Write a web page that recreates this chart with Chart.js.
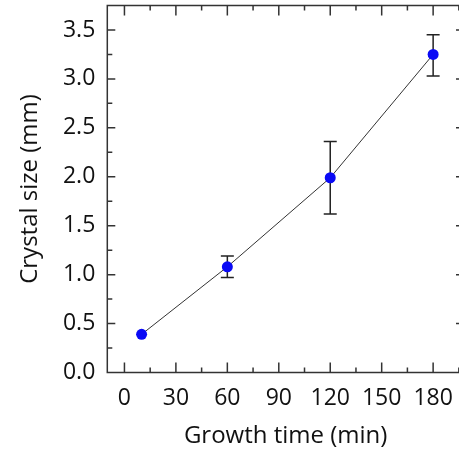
<!DOCTYPE html>
<html>
<head>
<meta charset="utf-8">
<script src="https://cdn.jsdelivr.net/npm/chart.js@4.4.1/dist/chart.umd.min.js"></script>
<style>
  html, body { margin: 0; padding: 0; overflow: hidden; background: #fff; }
  canvas { display: block; }
</style>
</head>
<body>
<canvas id="myCrystalChart" width="470" height="451"></canvas>
<script>
// growth data
const growthTime = [10, 60, 120, 180];
const crystalSize = [0.39, 1.08, 1.99, 3.25];
const errLow = [0.39, 0.97, 1.62, 3.03];
const errHigh = [0.39, 1.19, 2.36, 3.45];

const xTicks = [0, 30, 60, 90, 120, 150, 180];
const yTicks = [0, 0.5, 1.0, 1.5, 2.0, 2.5, 3.0, 3.5];

const fontFamily = "'Open Sans', 'Noto Sans', sans-serif";
const frameColor = "#333";

// error bars, drawn under the points
const errorBars = {
  id: "errorBars",
  beforeDatasetsDraw(chart) {
    const ctx = chart.ctx;
    const x = chart.scales.x;
    const y = chart.scales.y;
    ctx.save();
    ctx.strokeStyle = "#222";
    ctx.lineWidth = 1.5;
    for (let i = 0; i < growthTime.length; i++) {
      if (errHigh[i] - errLow[i] < 0.02) continue;
      const px = x.getPixelForValue(growthTime[i]);
      const top = y.getPixelForValue(errHigh[i]);
      const bot = y.getPixelForValue(errLow[i]);
      ctx.beginPath();
      ctx.moveTo(px, top); ctx.lineTo(px, bot);
      ctx.moveTo(px - 6.5, top); ctx.lineTo(px + 6.5, top);
      ctx.moveTo(px - 6.5, bot); ctx.lineTo(px + 6.5, bot);
      ctx.stroke();
    }
    ctx.restore();
  }
};

// box frame with inward ticks on every side
const frameTicks = {
  id: "frameTicks",
  afterDraw(chart) {
    const ctx = chart.ctx;
    const a = chart.chartArea;
    const x = chart.scales.x;
    const y = chart.scales.y;
    ctx.save();
    ctx.strokeStyle = frameColor;
    ctx.lineWidth = 1.5;
    ctx.strokeRect(a.left, a.top, a.right - a.left, a.bottom - a.top);
    ctx.beginPath();
    for (let v = -15; v <= 200; v += 15) {
      const px = x.getPixelForValue(v);
      if (px <= a.left + 1 || px >= a.right - 1) continue;
      const len = v % 30 === 0 ? 10 : 5;
      ctx.moveTo(px, a.bottom); ctx.lineTo(px, a.bottom - len);
      ctx.moveTo(px, a.top); ctx.lineTo(px, a.top + len);
    }
    for (let v = 0.25; v < 3.75; v += 0.25) {
      const py = y.getPixelForValue(v);
      const len = Math.abs(v * 2 - Math.round(v * 2)) < 0.01 ? 8 : 5;
      ctx.moveTo(a.left, py); ctx.lineTo(a.left + len, py);
      ctx.moveTo(a.right, py); ctx.lineTo(a.right - len, py);
    }
    ctx.stroke();
    ctx.restore();
  }
};

const crystalChart = new Chart(document.getElementById("myCrystalChart").getContext("2d"), {
  type: "scatter",
  data: {
    datasets: [
      {
        label: "Crystal size",
        data: growthTime.map((t, i) => ({ x: t, y: crystalSize[i] })),
        showLine: true,
        borderColor: "#333",
        borderWidth: 1,
        backgroundColor: "#0a0af5",
        pointBorderColor: "#0a0af5",
        pointRadius: 5.5,
        pointBorderWidth: 0,
      },
    ],
  },
  options: {
    responsive: false,
    animation: false,
    layout: { padding: { top: 5, right: 6, left: 0, bottom: 0 } },
    plugins: {
      legend: { display: false },
      tooltip: { enabled: false },
    },
    scales: {
      x: {
        type: "linear",
        min: -10,
        max: 198,
        grid: { display: false, drawTicks: false },
        border: { display: false },
        afterBuildTicks: (scale) => { scale.ticks = xTicks.map(v => ({ value: v })); },
        afterFit: (scale) => { scale.height = 78.5; scale.paddingLeft = 0; scale.paddingRight = 0; },
        ticks: {
          padding: 12,
          maxRotation: 0,
          autoSkip: false,
          color: "#111",
          font: { family: fontFamily, size: 23 },
        },
        title: {
          display: true,
          text: "Growth time (min)",
          color: "#111",
          font: { family: fontFamily, size: 24 },
          padding: { top: 0, bottom: 0 },
        },
      },
      y: {
        min: 0,
        max: 3.75,
        grid: { display: false, drawTicks: false },
        border: { display: false },
        afterBuildTicks: (scale) => { scale.ticks = yTicks.map(v => ({ value: v })); },
        afterFit: (scale) => { scale.width = 107.3; scale.paddingTop = 0; scale.paddingBottom = 0; },
        ticks: {
          padding: 12,
          autoSkip: false,
          color: "#111",
          font: { family: fontFamily, size: 23 },
          callback: (v) => Number(v).toFixed(1),
        },
        title: {
          display: true,
          text: "Crystal size (mm)",
          color: "#111",
          font: { family: fontFamily, size: 24 },
          padding: { top: 16, bottom: 0 },
        },
      },
    },
  },
  plugins: [errorBars, frameTicks],
});
</script>
</body>
</html>
